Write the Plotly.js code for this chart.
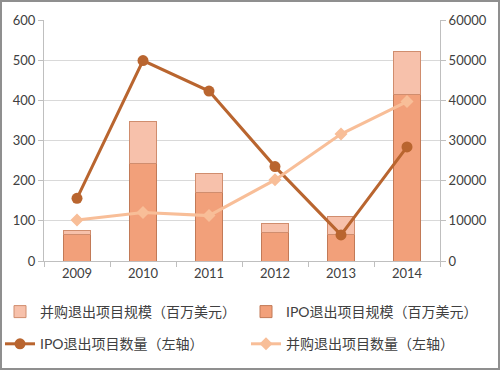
<!DOCTYPE html>
<html><head><meta charset="utf-8">
<script src="https://cdn.plot.ly/plotly-3.0.1.min.js"></script>
<style>html,body{margin:0;padding:0;background:#fff}#wrap{position:relative;width:500px;height:370px}#frame{position:absolute;left:0;top:0;width:500px;height:370px;box-sizing:border-box;border:2px solid #8f8f8f;pointer-events:none}</style>
</head><body><div id="wrap"><div id="chart"></div><div id="frame"></div></div>
<script>
const years = ['2009','2010','2011','2012','2013','2014'];
const ipoSize = [6600, 24200, 17100, 7150, 6500, 41400];
const maSize = [1100, 10500, 4700, 2250, 4650, 10750];
const ipoCount = [156, 499, 423, 235, 65, 284];
const maCount = [102, 121, 113, 202, 316, 397];
const names = ['并购退出项目规模（百万美元）','IPO退出项目规模（百万美元）','IPO退出项目数量（左轴）','并购退出项目数量（左轴）'];
const leftTicks = [0,100,200,300,400,500,600];
const rightTicks = [0,10000,20000,30000,40000,50000,60000];
const rightTickText = ['0','10000','20000','30000','40000','50000','60000'];

const F = 'Lato, "Noto Sans CJK SC", sans-serif';
const traces = [
  {type:'bar', x:years, y:ipoSize, name:names[1], yaxis:'y', width:0.4, legend:'legend2', legendrank:1, legendgroup:'b1',
   marker:{color:'#F2A07A', line:{color:'#C27A57', width:1}}},
  {type:'bar', x:years, y:maSize, name:names[0], yaxis:'y', width:0.4, legend:'legend', legendrank:1, legendgroup:'a1',
   marker:{color:'#F7C1AB', line:{color:'#D08D6E', width:1}}},
  {type:'scatter', mode:'lines+markers', x:years, y:ipoCount, name:names[2], yaxis:'y2', legend:'legend', legendrank:2, legendgroup:'a2',
   line:{color:'#B9652F', width:3}, marker:{symbol:'circle', size:11, color:'#B9652F'}},
  {type:'scatter', mode:'lines+markers', x:years, y:maCount, name:names[3], yaxis:'y2', legend:'legend2', legendrank:2, legendgroup:'b2',
   line:{color:'#F8BE98', width:3}, marker:{symbol:'diamond', size:10, color:'#F8BE98'}}
];
const leg = (x) => ({orientation:'v', xref:'container', yref:'container', x:x, y:0.2, xanchor:'left', yanchor:'top',
    traceorder:'grouped', tracegroupgap:11, font:{size:14, color:'#404040', family:F}, itemwidth:30, bgcolor:'rgba(0,0,0,0)'});
const layout = {
  width:500, height:370, paper_bgcolor:'#fff', plot_bgcolor:'#fff',
  margin:{l:44, r:60, t:20, b:109, autoexpand:false},
  barmode:'stack', showlegend:true,
  font:{family:F, size:13, color:'#404040'},
  xaxis:{type:'category', showline:true, linecolor:'#bfbfbf', ticks:'outside', tickson:'boundaries',
    ticklen:5, tickcolor:'#bfbfbf', showgrid:false, tickfont:{size:13, color:'#404040'}},
  yaxis:{range:[0,60000], tickvals:rightTicks, ticktext:rightTickText, side:'right', showline:true, linecolor:'#bfbfbf',
    ticks:'outside', ticklen:5, tickcolor:'#bfbfbf', gridcolor:'#d9d9d9', zeroline:false, tickfont:{size:13, color:'#404040'}},
  yaxis2:{range:[0,600], tickvals:leftTicks, overlaying:'y', side:'left', showline:true, linecolor:'#bfbfbf', ticks:'outside', ticklen:5,
    tickcolor:'#bfbfbf', showgrid:false, zeroline:false, tickfont:{size:13, color:'#404040'}},
  legend:leg(0.0),
  legend2:leg(0.492)
};
Plotly.newPlot('chart', traces, layout, {displayModeBar:false});
</script></body></html>
